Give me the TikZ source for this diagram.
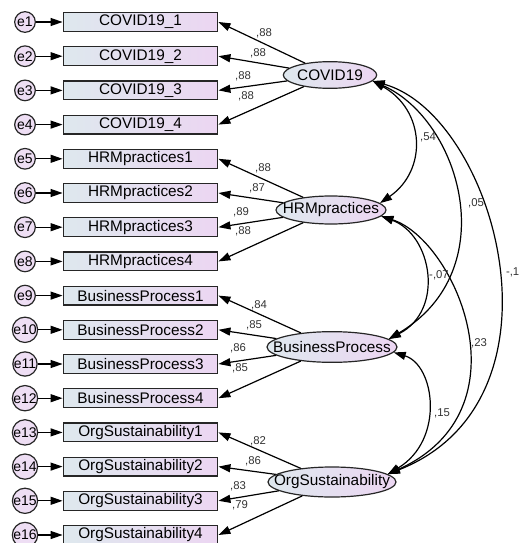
\documentclass[tikz,border=0pt]{standalone}
\usepackage{fontspec}
\setmainfont{Liberation Sans}
\usetikzlibrary{shapes.geometric, arrows.meta}

\definecolor{boxleft}{RGB}{222,232,238}
\definecolor{boxright}{RGB}{236,214,242}
\definecolor{errfill}{RGB}{238,222,244}

\begin{document}
\begin{tikzpicture}[x=0.75pt,y=0.75pt,yscale=-1,xscale=1,
  obs/.style={draw=black!85, line width=0.9pt, left color=boxleft, right color=boxright, minimum width=116pt, minimum height=14pt, inner sep=0pt, font=\fontsize{11.5}{12}\selectfont},
  lat/.style={ellipse, draw=black!85, line width=0.9pt, left color=boxleft, right color=boxright, inner xsep=-30pt, inner ysep=-10pt, font=\fontsize{11.5}{12}\selectfont},
  err/.style={circle, draw=black!85, line width=0.9pt, fill=errfill, minimum size=15.5pt, inner sep=0pt, font=\fontsize{10.5}{11}\selectfont},
  load/.style={-{Triangle[length=9pt,width=6pt]}, line width=0.9pt},
  cov/.style={{Triangle[length=9pt,width=6pt]}-{Triangle[length=9pt,width=6pt]}, line width=0.9pt},
  est/.style={font=\fontsize{8.5}{9}\selectfont, inner sep=0.75pt, text=black!80}
]
\useasboundingbox (0,0) rectangle (521,543);

% Latent variables
\node[lat, minimum width=70pt, minimum height=20pt] (covid) at (330,75) {COVID19};
\node[lat, minimum width=82.5pt, minimum height=21pt] (hrm) at (331,210) {HRMpractices};
\node[lat, minimum width=97.5pt, minimum height=23pt] (bp) at (332,347) {BusinessProcess};
\node[lat, minimum width=96pt, minimum height=22.5pt] (org) at (332,482) {OrgSustainability};

% Indicators
\node[obs] (cv1) at (140.5,22) {COVID19\_1};
\node[obs] (cv2) at (140.5,56.2) {COVID19\_2};
\node[obs] (cv3) at (140.5,90.4) {COVID19\_3};
\node[obs] (cv4) at (140.5,124.6) {COVID19\_4};
\node[obs] (hr1) at (140.5,158.8) {HRMpractices1};
\node[obs] (hr2) at (140.5,193) {HRMpractices2};
\node[obs] (hr3) at (140.5,227.2) {HRMpractices3};
\node[obs] (hr4) at (140.5,261.4) {HRMpractices4};
\node[obs] (bp1) at (140.5,295.6) {BusinessProcess1};
\node[obs] (bp2) at (140.5,329.8) {BusinessProcess2};
\node[obs] (bp3) at (140.5,364) {BusinessProcess3};
\node[obs] (bp4) at (140.5,398.2) {BusinessProcess4};
\node[obs] (os1) at (140.5,432.4) {OrgSustainability1};
\node[obs] (os2) at (140.5,466.6) {OrgSustainability2};
\node[obs] (os3) at (140.5,500.8) {OrgSustainability3};
\node[obs] (os4) at (140.5,535) {OrgSustainability4};

% Error terms
\node[err] (e1) at (25,22) {e1};
\node[err] (e2) at (25,56.2) {e2};
\node[err] (e3) at (25,90.4) {e3};
\node[err] (e4) at (25,124.6) {e4};
\node[err] (e5) at (25,158.8) {e5};
\node[err] (e6) at (25,193) {e6};
\node[err] (e7) at (25,227.2) {e7};
\node[err] (e8) at (25,261.4) {e8};
\node[err] (e9) at (25,295.6) {e9};
\node[err] (e10) at (25,329.8) {e10};
\node[err] (e11) at (25,364) {e11};
\node[err] (e12) at (25,398.2) {e12};
\node[err] (e13) at (25,432.4) {e13};
\node[err] (e14) at (25,466.6) {e14};
\node[err] (e15) at (25,500.8) {e15};
\node[err] (e16) at (25,535) {e16};

% Error arrows
\draw[load] (e1) -- (cv1);
\draw[load] (e2) -- (cv2);
\draw[load] (e3) -- (cv3);
\draw[load] (e4) -- (cv4);
\draw[load] (e5) -- (hr1);
\draw[load] (e6) -- (hr2);
\draw[load] (e7) -- (hr3);
\draw[load] (e8) -- (hr4);
\draw[load] (e9) -- (bp1);
\draw[load] (e10) -- (bp2);
\draw[load] (e11) -- (bp3);
\draw[load] (e12) -- (bp4);
\draw[load] (e13) -- (os1);
\draw[load] (e14) -- (os2);
\draw[load] (e15) -- (os3);
\draw[load] (e16) -- (os4);

% Loadings
\draw[load] (covid) -- (cv1.east);
\draw[load] (covid) -- (cv2.east);
\draw[load] (covid) -- (cv3.east);
\draw[load] (covid) -- (cv4.east);
\draw[load] (hrm) -- (hr1.east);
\draw[load] (hrm) -- (hr2.east);
\draw[load] (hrm) -- (hr3.east);
\draw[load] (hrm) -- (hr4.east);
\draw[load] (bp) -- (bp1.east);
\draw[load] (bp) -- (bp2.east);
\draw[load] (bp) -- (bp3.east);
\draw[load] (bp) -- (bp4.east);
\draw[load] (org) -- (os1.east);
\draw[load] (org) -- (os2.east);
\draw[load] (org) -- (os3.east);
\draw[load] (org) -- (os4.east);

% Text Node: loading estimates
\node[est] (lcv1) at (264,33) {,88};
\node[est] (lcv2) at (258,53) {,88};
\node[est] (lcv3) at (243,76) {,88};
\node[est] (lcv4) at (246,96) {,88};
\node[est] (lhr1) at (263,168) {,88};
\node[est] (lhr2) at (257,188) {,87};
\node[est] (lhr3) at (241,212) {,89};
\node[est] (lhr4) at (243,231) {,88};
\node[est] (lbp1) at (259,305) {,84};
\node[est] (lbp2) at (254,325) {,85};
\node[est] (lbp3) at (238,348) {,86};
\node[est] (lbp4) at (240,368) {,85};
\node[est] (los1) at (258,441) {,82};
\node[est] (los2) at (253,461) {,86};
\node[est] (los3) at (238,486) {,83};
\node[est] (los4) at (240,505) {,79};

% Covariances
\draw[cov] (covid.-8) .. controls (425,110) and (428,170) .. (hrm.8);
\draw[cov] (covid.-8) .. controls (460,120) and (505,270) .. (bp.8);
\draw[cov] (covid.-8) .. controls (495,115) and (576,400) .. (org.8);
\draw[cov] (hrm.-7) .. controls (432,235) and (445,310) .. (bp.8);
\draw[cov] (hrm.-7) .. controls (455,240) and (530,410) .. (org.8);
\draw[cov] (bp.-5) .. controls (435,365) and (445,440) .. (org.8);

% Text Node: correlations
\node[est] (r12) at (428,137) {,54};
\node[est] (r13) at (476,203) {,05};
\node[est, anchor=east] (r14) at (520.5,272) {-,1};
\node[est] (r23) at (439,275) {-,07};
\node[est] (r24) at (479,343) {,23};
\node[est] (r34) at (442,413) {,15};

\end{tikzpicture}
\end{document}
